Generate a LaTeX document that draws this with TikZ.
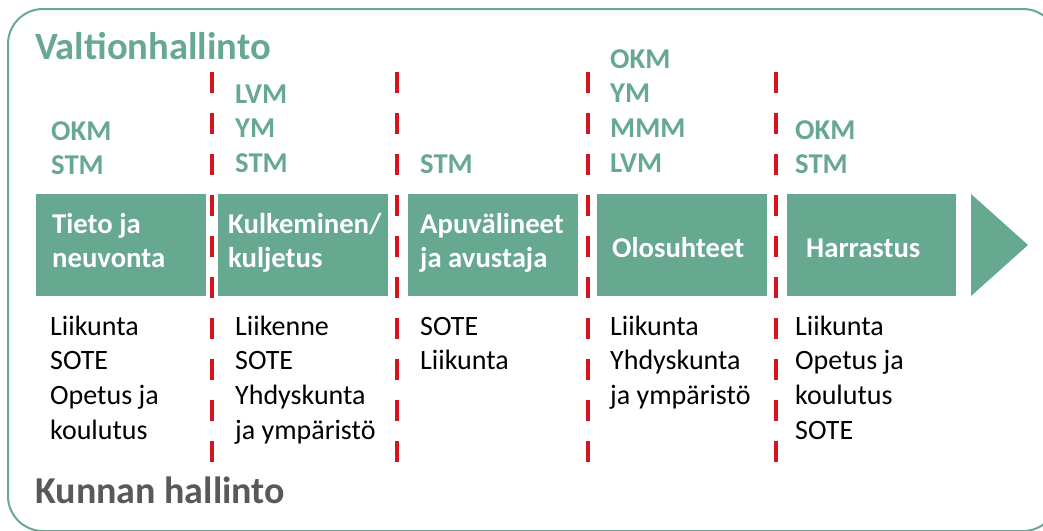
\documentclass[tikz,border=0pt]{standalone}
\usepackage{fontspec}
\setmainfont{Carlito}
\definecolor{tgreen}{HTML}{67A890}
\definecolor{tred}{HTML}{D7141E}
\definecolor{tgrey}{HTML}{595959}
\newcommand\textcol[5]{%
  \foreach \t [count=\i from 0] in {#5} {
    \node[#4] (#1-\i) at (#2, {#3+34.7*\i}) {\t};
  }%
}
\tikzset{
  txt/.style={anchor=base west, inner sep=0pt, font=\fontsize{28}{32}\selectfont},
  agency/.style={txt, text=tgreen, font=\fontsize{28.7}{32}\selectfont\bfseries},
  boxtxt/.style={txt, text=white, font=\fontsize{28.7}{32}\selectfont\bfseries},
  kunta/.style={txt, text=black},
  stepbox/.style={fill=tgreen, draw=none, anchor=north west, minimum width=170pt, minimum height=102pt, inner sep=0pt},
  divider/.style={tred, line width=4pt, dash pattern=on 20.5pt off 20.5pt},
  frame/.style={draw=tgreen, line width=2pt, rounded corners=35pt},
}
\begin{document}
\begin{tikzpicture}[x=1pt,y=-1pt]
\useasboundingbox (0,0) rectangle (1043,530);
\begin{scope}
  \clip (0,0) rectangle (1043,530);
  \draw[frame] (8,9) rectangle (1058,531);
\end{scope}
\node[txt, text=tgreen, font=\fontsize{38.6}{40}\selectfont\bfseries] (state) at (35,59) {Valtionhallinto};
\node[txt, text=tgrey, font=\fontsize{38}{40}\selectfont\bfseries] (muni) at (35,503) {Kunnan hallinto};
% boxes
\node[stepbox] (b1) at (36,194) {};
\node[stepbox] (b2) at (218,194) {};
\node[stepbox] (b3) at (408,194) {};
\node[stepbox] (b4) at (597,194) {};
\node[stepbox, minimum width=169pt] (b5) at (787,194) {};
\fill[tgreen] (971,194) -- (1028,245) -- (971,296) -- cycle;
% dividers
\coordinate (d1t) at (212,72); \coordinate (d1b) at (212,462);
\coordinate (d2t) at (397,72); \coordinate (d2b) at (397,462);
\coordinate (d3t) at (588,72); \coordinate (d3b) at (588,462);
\coordinate (d4t) at (776,72); \coordinate (d4b) at (776,462);
\draw[divider] (d1t) -- (d1b);
\draw[divider] (d2t) -- (d2b);
\draw[divider] (d3t) -- (d3b);
\draw[divider] (d4t) -- (d4b);
% agencies
\textcol{a1}{51}{140}{agency}{OKM,STM}
\textcol{a2}{235}{103}{agency}{LVM,YM,STM}
\textcol{a3}{420}{173}{agency}{STM}
\textcol{a4}{610}{68}{agency}{OKM,YM,MMM,LVM}
\textcol{a5}{795}{139}{agency}{OKM,STM}
% box texts
\textcol{t1}{52}{233}{boxtxt}{Tieto ja,neuvonta}
\textcol{t2}{228}{233}{boxtxt}{Kulkeminen/,kuljetus}
\textcol{t3}{420}{233}{boxtxt}{Apuvälineet,ja avustaja}
\textcol{t4}{612}{257}{boxtxt}{Olosuhteet}
\textcol{t5}{806}{257}{boxtxt}{Harrastus}
% municipal sectors
\textcol{k1}{50}{335}{kunta}{Liikunta,SOTE,Opetus ja,koulutus}
\textcol{k2}{235}{335}{kunta}{Liikenne,SOTE,Yhdyskunta,ja ympäristö}
\textcol{k3}{420}{335}{kunta}{SOTE,Liikunta}
\textcol{k4}{610}{335}{kunta}{Liikunta,Yhdyskunta,ja ympäristö}
\textcol{k5}{795}{335}{kunta}{Liikunta,Opetus ja,koulutus,SOTE}
\end{tikzpicture}
\end{document}
